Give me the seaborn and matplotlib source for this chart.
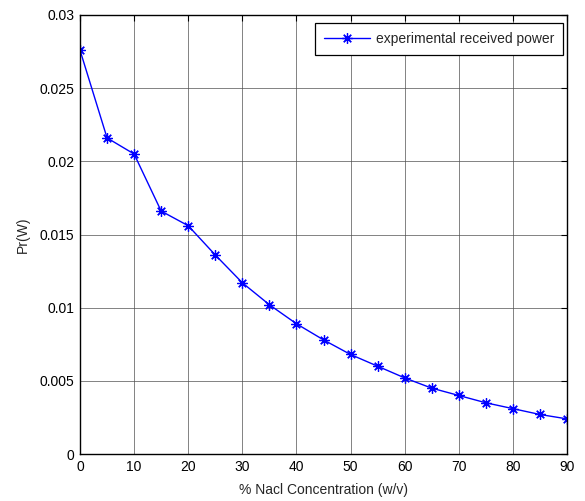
import matplotlib
matplotlib.use("Agg")
import matplotlib.pyplot as plt
import seaborn as sns
import pandas as pd

concentration = [0, 5, 10, 15, 20, 25, 30, 35, 40, 45, 50, 55, 60, 65, 70, 75, 80, 85, 90]
received_power = [0.0276, 0.0216, 0.0205, 0.0166, 0.0156, 0.0136, 0.0117, 0.0102, 0.0089,
                  0.0078, 0.0068, 0.0060, 0.0052, 0.0045, 0.0040, 0.0035, 0.0031, 0.0027, 0.0024]
x_ticks = [0, 10, 20, 30, 40, 50, 60, 70, 80, 90]
y_ticks = [0, 0.005, 0.01, 0.015, 0.02, 0.025, 0.03]
y_tick_labels = ["0", "0.005", "0.01", "0.015", "0.02", "0.025", "0.03"]

sns.set_theme(style="white")
plt.rcParams['font.family'] = ['Liberation Sans', 'DejaVu Sans']

df = pd.DataFrame({"x": concentration, "y": received_power})

fig = plt.figure(figsize=(5.85, 5.01), dpi=100)
ax = fig.add_axes([80/585, 1-454/501, (567-80)/585, (454-15)/501])

sns.lineplot(data=df, x="x", y="y", ax=ax, color="#0000ff", linewidth=1.0,
             marker=(8, 2, 0), markersize=7.5, markeredgecolor="#0000ff",
             markeredgewidth=0.9, label="experimental received power")

ax.set_xlim(0, 90)
ax.set_ylim(0, 0.03)
ax.set_xticks(x_ticks)
ax.set_xticklabels([str(t) for t in x_ticks])
ax.set_yticks(y_ticks)
ax.set_yticklabels(y_tick_labels)
ax.grid(True, color="#505050", linewidth=0.5, linestyle="-")
ax.tick_params(axis="both", which="both", direction="in", top=True, right=True,
               length=4, width=0.8, colors="black", labelsize=10, pad=4)
for s in ax.spines.values():
    s.set_color("black")
    s.set_linewidth(1.0)
ax.set_xlabel("% Nacl Concentration (w/v)", fontsize=10, labelpad=7)
ax.set_ylabel("Pr(W)", fontsize=10, labelpad=7)

leg = ax.legend(loc="upper right", bbox_to_anchor=(1 - 4/487, 1 - 8/439),
                borderaxespad=0, fontsize=10, frameon=True, fancybox=False,
                edgecolor="black", framealpha=1, borderpad=0.65,
                handlelength=3.3, handletextpad=0.4)
leg.get_frame().set_linewidth(0.9)

fig.savefig("out.png", dpi=100, facecolor="white")
